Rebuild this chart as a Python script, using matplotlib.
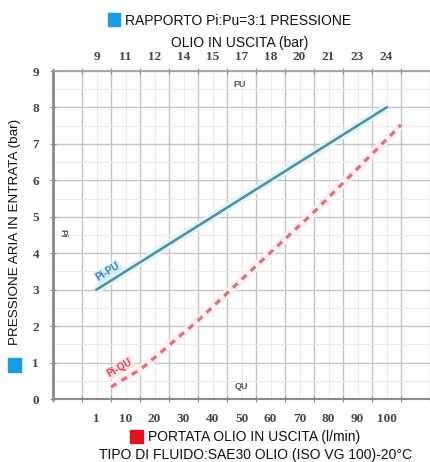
import numpy as np
import matplotlib.pyplot as plt
from matplotlib.patches import Rectangle

# tick labels (placed in the middle of each grid cell)
flow_labels = ["1", "10", "20", "30", "40", "50", "60", "70", "80", "90", "100"]
pu_labels = ["9", "11", "12", "14", "15", "17", "18", "20", "21", "23", "24"]
pi_ticks = [0, 1, 2, 3, 4, 5, 6, 7, 8, 9]

# Pi-PU line: outlet oil pressure (bar) vs inlet air pressure (bar)
pu_out = [9, 24]
pi_pu = [3.0, 8.0]

# Pi-QU line: oil flow (l/min) vs inlet air pressure (bar)
q_flow = [5, 14, 17, 35, 55, 75, 105]
pi_qu = [0.33, 0.76, 0.93, 2.15, 3.65, 5.13, 7.52]


def flow_pos(q):
    return 1.5 + np.asarray(q) / 10.0


def pu_pos(p):
    return 1.5 + (np.asarray(p) - 9) / 1.5


plt.rcParams['font.family'] = ['Liberation Sans', 'DejaVu Sans']
fig = plt.figure(figsize=(4.30, 4.62), dpi=100)
ax = fig.add_axes([53 / 430, 1 - 399 / 462, 377 / 430, 328 / 462])
ax.set_xlim(0, 13)
ax.set_ylim(0, 9)

label_pos = np.arange(len(flow_labels)) + 1.5
tick_font = dict(family='Liberation Serif', weight='bold', size=9.5)

ax.set_xticks(np.arange(0, 14))
ax.set_xticklabels([])
ax.set_xticks(label_pos, flow_labels, minor=True, **tick_font)
ax.set_yticks(pi_ticks, [str(v) for v in pi_ticks], **tick_font)
ax.set_yticks(np.arange(0.5, 9, 1), minor=True)
ax.tick_params(which='major', length=4, direction='inout', color='#888888',
               top=True, bottom=True, left=True, labelcolor='#444444')
ax.tick_params(which='minor', length=0, pad=10, labelcolor='#444444')
ax.tick_params(axis='y', which='major', pad=8)

top = ax.secondary_xaxis('top')
top.set_xticks(label_pos, pu_labels, **tick_font)
top.tick_params(length=0, pad=6, labelcolor='#444444')
top.spines['top'].set_visible(False)

ax.grid(which='major', color='#c4c4c4', lw=1.0)
ax.grid(which='minor', color='#ebebeb', lw=0.8)
ax.set_axisbelow(True)
ax.spines['left'].set_color('#8a8a8a')
ax.spines['left'].set_linewidth(2)
ax.spines['bottom'].set_color('#8a8a8a')
ax.spines['bottom'].set_linewidth(1.5)
ax.spines['top'].set_color('#9a9a9a')
ax.spines['top'].set_linewidth(1.2)
ax.spines['right'].set_visible(False)

# halos and lines
ax.plot(pu_pos(pu_out), pi_pu, color='#e2f4fa', lw=6, solid_capstyle='butt')
ax.plot(pu_pos(pu_out), pi_pu, color='#4d8ea3', lw=1.8)
ax.plot(flow_pos(q_flow), pi_qu, color='#fdeef0', lw=6, solid_capstyle='butt')
ax.plot(flow_pos(q_flow), pi_qu, color='#d6747f', lw=2.3, ls=(0, (2.0, 1.8)))

ax.text(1.9, 3.5, "Pi-PU", color='#3f7fb0', fontsize=7, rotation=32,
        ha='center', va='center', weight='bold',
        bbox=dict(boxstyle='square,pad=0.1', fc='#d3eef8', ec='none'))
ax.text(2.3, 0.85, "Pi-QU", color='#d8404e', fontsize=7, rotation=30,
        ha='center', va='center', weight='bold',
        bbox=dict(boxstyle='square,pad=0.1', fc='#fbe4e7', ec='none'))
ax.text(6.45, 8.62, "PU", color='#555555', fontsize=6.5, weight='bold',
        ha='center', va='center')
ax.text(6.5, 0.33, "QU", color='#555555', fontsize=6.5, weight='bold',
        ha='center', va='center')
ax.text(0.34, 4.55, "Pi", color='#555555', fontsize=6.5, weight='bold',
        ha='center', va='center', rotation=-90)

# titles and labels
fig.text(125 / 430, 1 - 21 / 462, "RAPPORTO Pi:Pu=3:1 PRESSIONE", fontsize=10,
         ha='left', va='center', color='#111111')
fig.text(240 / 430, 1 - 43 / 462, "OLIO IN USCITA (bar)", fontsize=10,
         ha='center', va='center', color='#111111')
fig.text(15 / 430, 1 - 232 / 462, "PRESSIONE ARIA IN ENTRATA (bar)", fontsize=9.7,
         rotation=90, ha='center', va='center', color='#111111')
fig.text(148 / 430, 1 - 437 / 462, "PORTATA OLIO IN USCITA (l/min)", fontsize=10,
         ha='left', va='center', color='#111111')
fig.text(255 / 430, 1 - 455 / 462, "TIPO DI FLUIDO:SAE30 OLIO (ISO VG 100)-20\u00b0C",
         fontsize=10, ha='center', va='center', color='#111111')

# coloured squares
for (x0, y0, w, h, c) in [(108, 13, 12, 13, '#1a9de0'), (8, 358, 13, 14, '#1a9de0'),
                          (130, 430, 13, 13, '#e01420')]:
    fig.patches.append(Rectangle((x0 / 430, 1 - (y0 + h) / 462), w / 430, h / 462,
                                 transform=fig.transFigure, color=c, zorder=5))

fig.savefig('out.png', dpi=100)
